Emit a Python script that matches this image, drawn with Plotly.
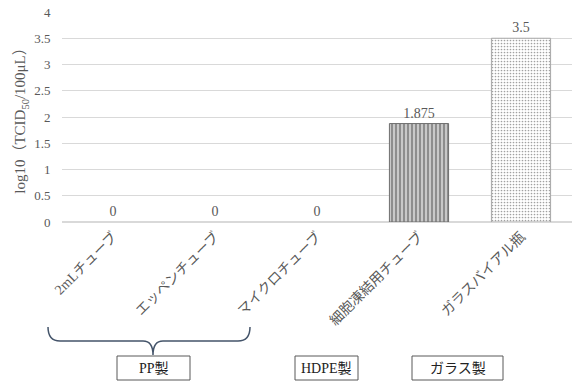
import plotly.graph_objects as go

categories = ["2mLチューブ", "エッペンチューブ", "マイクロチューブ", "細胞凍結用チューブ", "ガラスバイアル瓶"]
values = [0, 0, 0, 1.875, 3.5]
value_labels = ["0", "0", "0", "1.875", "3.5"]
tick_vals = [0, 0.5, 1, 1.5, 2, 2.5, 3, 3.5, 4]
tick_text = ["0", "0.5", "1", "1.5", "2", "2.5", "3", "3.5", "4"]
group_labels = ["PP製", "HDPE製", "ガラス製"]

FONT = "Liberation Serif, Noto Sans CJK JP, serif"
GRAY = "#595959"

W, H = 574, 383
L, R, T, B = 62, 2, 12, 161
pw, ph = W - L - R, H - T - B


def px(x):
    return (x - L) / pw


def py(y):
    return (H - B - y) / ph


fig = go.Figure()
fig.add_trace(go.Bar(
    x=categories,
    y=values,
    width=0.58,
    text=value_labels,
    textposition="outside",
    cliponaxis=False,
    textfont=dict(family=FONT, size=14, color=GRAY),
    marker=dict(
        color=["white", "white", "white", "#c8c8c8", "white"],
        line=dict(color=["#7f7f7f", "#7f7f7f", "#7f7f7f", "#6e6e6e", "#a6a6a6"],
                  width=[0, 0, 0, 1, 1]),
        pattern=dict(
            shape=["", "", "", "|", "."],
            fgcolor=["#6e6e6e", "#6e6e6e", "#6e6e6e", "#6e6e6e", "#a0a0a0"],
            bgcolor=["white", "white", "white", "#c8c8c8", "white"],
            size=[4, 4, 4, 4, 3],
            solidity=[0.5, 0.5, 0.5, 0.45, 0.25],
            fillmode="overlay",
        ),
    ),
    showlegend=False,
))

# Brace under the PP group
bx0, bx1, bxm = 48, 250, 153
by0, bym, bytip = 327, 341, 355
brace = (
    f"M {px(bx0)},{py(by0)} "
    f"Q {px(bx0)},{py(bym)} {px(bx0+12)},{py(bym)} "
    f"L {px(bxm-10)},{py(bym)} "
    f"Q {px(bxm)},{py(bym)} {px(bxm)},{py(bytip)} "
    f"Q {px(bxm)},{py(bym)} {px(bxm+10)},{py(bym)} "
    f"L {px(bx1-12)},{py(bym)} "
    f"Q {px(bx1)},{py(bym)} {px(bx1)},{py(by0)}"
)
fig.add_shape(type="path", xref="paper", yref="paper", path=brace,
              line=dict(color="#44546A", width=1.5))

boxes = [(117, 190), (295, 358), (412, 503)]
for (x0, x1), lab in zip(boxes, group_labels):
    fig.add_shape(type="rect", xref="paper", yref="paper",
                  x0=px(x0), x1=px(x1), y0=py(356), y1=py(380),
                  line=dict(color="#595959", width=1), fillcolor="white")
    fig.add_annotation(xref="paper", yref="paper", x=px((x0 + x1) / 2), y=py(368),
                       xanchor="center", yanchor="middle",
                       text=lab, showarrow=False,
                       font=dict(family=FONT, size=14, color="#222222"))

fig.update_layout(
    width=W, height=H,
    margin=dict(l=L, r=R, t=T, b=B, autoexpand=False),
    plot_bgcolor="white", paper_bgcolor="white",
    bargap=0.42,
    xaxis=dict(
        automargin=False,
        tickangle=-45,
        tickfont=dict(family=FONT, size=14, color=GRAY),
        showline=True, linecolor="#d9d9d9",
        ticks="",
    ),
    yaxis=dict(
        automargin=False,
        range=[0, 4],
        tickvals=tick_vals, ticktext=tick_text,
        tickfont=dict(family=FONT, size=13, color=GRAY),
        gridcolor="#d9d9d9", zeroline=True, zerolinecolor="#d9d9d9",
        ticklen=8, ticks="outside", tickcolor="white",
        title=dict(text="log10（TCID<sub>50</sub>/100μL）",
                   font=dict(family=FONT, size=15, color=GRAY), standoff=4),
    ),
)

fig.write_html("out.html", config={"displayModeBar": False},
               post_script="document.body.style.margin='0';document.body.style.overflow='hidden';")
